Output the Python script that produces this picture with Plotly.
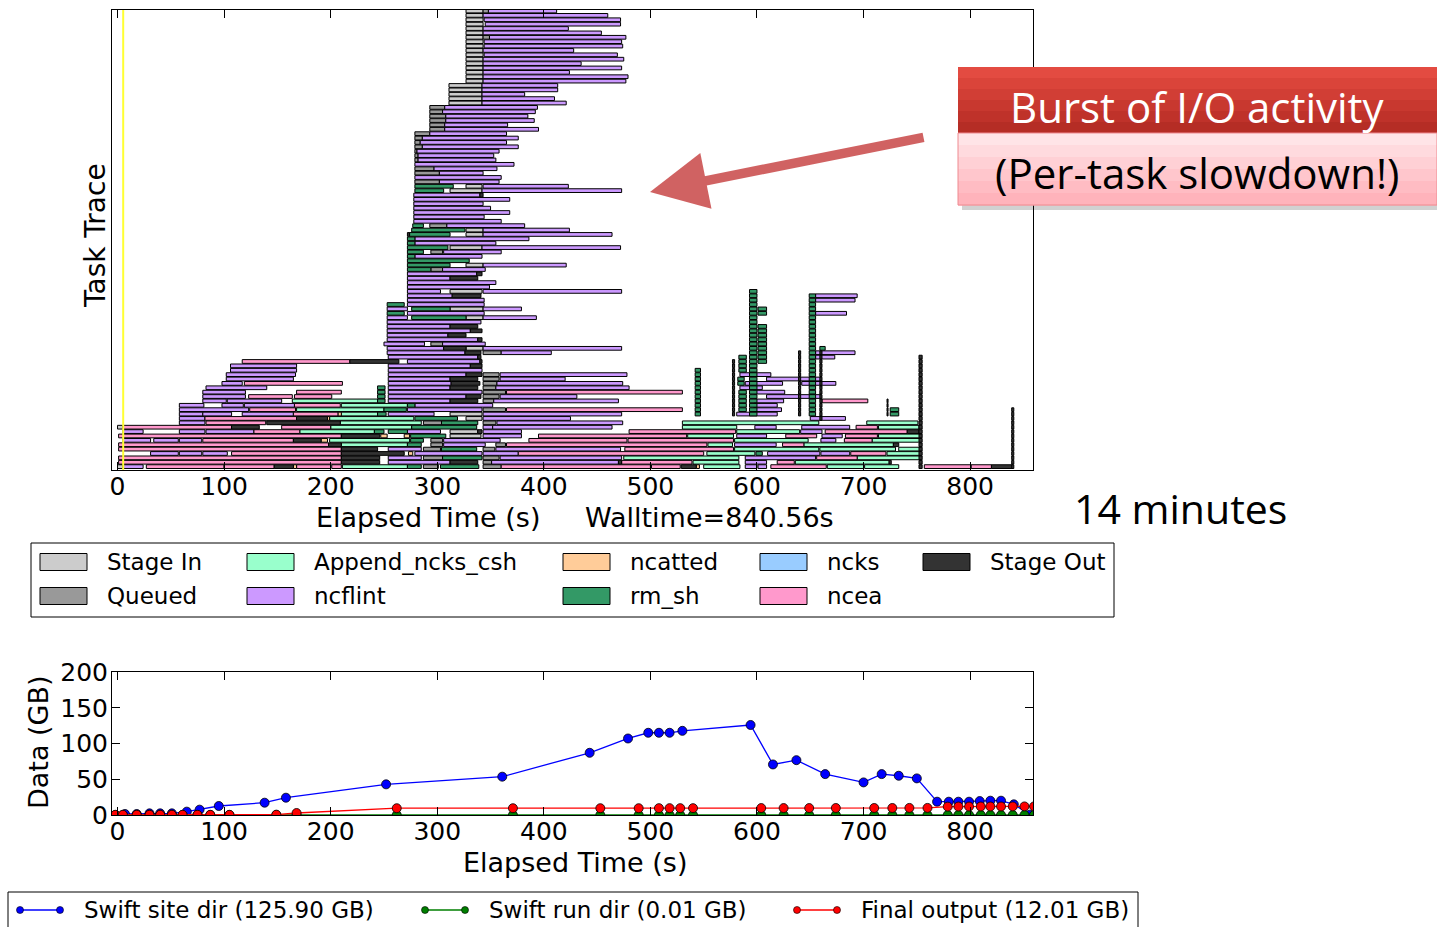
import plotly.graph_objects as go

W, H = 1437, 927

# ---------------- Task trace data: (row, start_s, end_s); row 0 is the top row ----------------
CATEGORIES = ["Stage In", "Queued", "Append_ncks_csh", "ncflint", "ncatted",
              "rm_sh", "ncks", "ncea", "Stage Out"]
COLORS = {"Stage In": "#cccccc", "Queued": "#999999", "Append_ncks_csh": "#99ffcc",
          "ncflint": "#cc99ff", "ncatted": "#ffcc99", "rm_sh": "#339966",
          "ncks": "#99ccff", "ncea": "#ff99cc", "Stage Out": "#333333"}

stage_in = [(0, 327, 343), (1, 327, 343), (2, 327, 343), (3, 327, 343), (4, 327, 343),
            (5, 327, 343), (6, 327, 343), (7, 327, 343), (8, 327, 343), (9, 327, 343),
            (10, 327, 343), (11, 327, 343), (12, 327, 343), (13, 327, 343), (14, 327, 343),
            (15, 327, 343), (16, 327, 343), (17, 311, 342), (18, 311, 342), (19, 311, 342),
            (20, 311, 342), (21, 311, 342), (40, 327, 342), (41, 312, 342), (50, 327, 343),
            (51, 327, 343), (54, 312, 342), (58, 327, 343), (64, 312, 342), (68, 312, 343),
            (70, 327, 343), (77, 327, 343), (92, 312, 342), (93, 327, 342), (95, 0, 5),
            (96, 312, 338), (97, 312, 341), (104, 0, 5)]

queued = [(0, 343, 348), (6, 343, 349), (22, 293, 307), (23, 293, 305), (24, 293, 308),
          (25, 293, 308), (26, 293, 307), (27, 293, 307), (28, 279, 293), (29, 279, 286),
          (30, 279, 284), (31, 279, 286), (32, 279, 281), (33, 279, 282), (34, 279, 282),
          (36, 279, 297), (37, 279, 302), (39, 279, 302), (49, 293, 309), (55, 294, 305),
          (59, 294, 305), (76, 294, 305), (78, 343, 360), (83, 343, 358), (84, 343, 358),
          (85, 343, 356), (86, 343, 355), (87, 343, 364), (88, 343, 358), (89, 343, 353),
          (91, 343, 364), (94, 287, 304), (94, 343, 355), (98, 294, 305), (99, 294, 305),
          (99, 355, 364), (100, 287, 303), (100, 343, 354), (102, 287, 305), (102, 343, 358),
          (103, 343, 351), (104, 287, 301), (104, 343, 360)]

append_ncks_csh = [(89, 164, 244), (90, 210, 272), (91, 168, 250), (92, 210, 244),
                   (93, 199, 278), (94, 209, 285), (94, 530, 658), (94, 703, 751),
                   (95, 200, 276), (95, 530, 581), (95, 714, 752), (96, 171, 241),
                   (96, 581, 640), (97, 535, 578), (97, 714, 754), (98, 199, 274),
                   (98, 579, 648), (98, 708, 754), (99, 210, 272), (99, 554, 577),
                   (99, 644, 728), (100, 579, 658), (100, 659, 730), (100, 733, 754),
                   (101, 553, 598), (101, 722, 754), (102, 475, 583), (102, 694, 754),
                   (103, 540, 583), (103, 636, 724), (104, 211, 272), (104, 550, 584),
                   (104, 666, 700), (104, 701, 733)]

ncflint = [(0, 348, 412), (1, 343, 460), (2, 344, 472), (3, 345, 472), (4, 343, 423),
           (5, 343, 454), (6, 349, 477), (7, 344, 473), (8, 344, 474), (9, 343, 428),
           (10, 344, 469), (11, 343, 475), (12, 343, 435), (13, 343, 473), (14, 343, 424),
           (15, 343, 479), (16, 343, 477), (17, 342, 413), (18, 342, 413), (19, 342, 382),
           (20, 342, 410), (21, 342, 421), (22, 307, 394), (23, 305, 392), (24, 308, 385),
           (25, 308, 391), (26, 307, 366), (27, 307, 395), (28, 293, 365), (29, 286, 376),
           (30, 284, 365), (31, 286, 376), (32, 281, 358), (33, 282, 353), (34, 282, 355),
           (35, 279, 372), (36, 297, 356), (37, 302, 343), (38, 279, 360), (39, 302, 358),
           (40, 343, 423), (41, 342, 473), (42, 278, 340), (43, 278, 368), (44, 278, 343),
           (45, 278, 350), (46, 278, 368), (47, 278, 344), (48, 278, 360), (49, 309, 382),
           (50, 343, 424), (51, 343, 464), (52, 279, 386), (53, 279, 355), (54, 342, 472),
           (55, 306, 360), (56, 279, 342), (58, 343, 421), (59, 305, 345), (60, 272, 337),
           (61, 272, 312), (62, 272, 355), (63, 272, 349), (64, 272, 303), (64, 343, 473),
           (65, 272, 314), (65, 655, 694), (66, 272, 344), (66, 655, 692), (67, 272, 344),
           (68, 253, 272), (68, 343, 379), (69, 272, 344), (69, 655, 684), (70, 253, 272),
           (70, 343, 393), (71, 253, 341), (72, 253, 312), (73, 253, 331), (74, 253, 310),
           (75, 253, 338), (76, 250, 288), (76, 305, 345), (77, 253, 306), (77, 343, 473),
           (78, 253, 326), (78, 360, 407), (78, 655, 692), (79, 254, 338), (79, 655, 673),
           (80, 272, 340), (81, 106, 168), (81, 254, 331), (82, 106, 168), (82, 254, 342),
           (83, 102, 167), (83, 254, 327), (83, 359, 478), (83, 584, 613), (84, 102, 165),
           (84, 254, 312), (84, 359, 420), (84, 609, 660), (85, 98, 117), (85, 254, 313),
           (85, 356, 474), (85, 589, 624), (85, 642, 674), (86, 83, 140), (86, 254, 312),
           (86, 355, 480), (86, 584, 605), (87, 80, 120), (87, 254, 342), (87, 597, 626),
           (88, 80, 120), (88, 254, 327), (88, 359, 431), (88, 609, 660), (89, 80, 102),
           (89, 103, 154), (89, 254, 312), (89, 353, 470), (89, 598, 625), (90, 58, 81),
           (90, 98, 118), (90, 119, 166), (90, 279, 352), (90, 597, 619), (91, 58, 123),
           (91, 272, 342), (91, 597, 623), (92, 58, 80), (92, 80, 107), (92, 117, 165),
           (92, 254, 297), (92, 343, 473), (92, 581, 619), (93, 58, 82), (93, 343, 425),
           (93, 650, 683), (94, 58, 82), (94, 356, 474), (95, 343, 352), (95, 352, 464),
           (95, 598, 618), (95, 642, 687), (96, 5, 24), (96, 58, 82), (96, 83, 128),
           (96, 272, 303), (96, 343, 379), (96, 641, 661), (97, 343, 379), (97, 581, 609),
           (97, 661, 680), (98, 5, 31), (98, 34, 57), (98, 58, 79), (98, 306, 359),
           (98, 660, 674), (99, 306, 345), (99, 579, 618), (100, 254, 285), (100, 355, 472),
           (101, 31, 57), (101, 58, 79), (101, 80, 103), (101, 279, 342), (101, 343, 376),
           (101, 610, 659), (101, 660, 687), (102, 254, 285), (102, 359, 473), (102, 589, 655),
           (103, 254, 312), (103, 351, 470), (103, 589, 609), (104, 5, 24), (104, 589, 600),
           (104, 601, 609)]

ncatted = [(92, 207, 210), (93, 197, 199), (97, 247, 253), (97, 269, 274), (98, 191, 197),
           (101, 273, 277), (104, 165, 168), (104, 543, 546)]

rm_sh = [(40, 279, 315), (41, 279, 306), (49, 277, 287), (50, 276, 326), (51, 274, 312),
         (52, 272, 279), (53, 272, 279), (54, 272, 310), (55, 272, 287), (56, 272, 279),
         (57, 272, 330), (58, 272, 312), (59, 272, 294), (67, 253, 269), (68, 276, 312),
         (69, 253, 269), (70, 276, 327), (77, 659, 664), (86, 244, 251), (87, 244, 251),
         (88, 244, 251), (89, 244, 251), (90, 272, 279), (91, 250, 271), (92, 244, 252),
         (93, 279, 319), (94, 304, 338), (95, 276, 337), (96, 241, 250), (96, 254, 272),
         (97, 275, 308), (98, 275, 287), (99, 272, 285), (100, 304, 337), (101, 599, 605),
         (102, 305, 342), (104, 272, 285), (104, 303, 339), (91, 725, 733), (92, 725, 733)]
# stacked columns of short rm_sh tasks: (first_row, last_row, start_s, end_s)
rm_sh_columns = [(64, 92, 593, 600), (68, 69, 601, 609), (72, 80, 601, 609),
                 (79, 82, 583, 590), (84, 85, 582, 588), (87, 91, 583, 590),
                 (65, 92, 649, 655), (82, 92, 542, 547)]

ncks = []

ncea = [(80, 117, 218), (85, 119, 211), (87, 168, 210), (87, 365, 530), (88, 123, 164),
        (88, 166, 201), (89, 661, 704), (90, 166, 209), (91, 124, 167), (91, 365, 530),
        (92, 165, 207), (93, 82, 168), (94, 83, 139), (95, 5, 107), (95, 154, 200),
        (95, 693, 713), (96, 128, 171), (96, 480, 580), (96, 664, 741), (97, 1, 210),
        (97, 395, 534), (97, 627, 656), (97, 683, 713), (98, 80, 165), (98, 386, 478),
        (98, 479, 578), (98, 682, 708), (99, 1, 198), (99, 365, 553), (99, 624, 644),
        (100, 1, 210), (100, 476, 578), (101, 107, 210), (101, 376, 550), (101, 688, 721),
        (102, 1, 210), (102, 656, 694), (103, 1, 210), (103, 473, 539), (103, 619, 635),
        (104, 27, 100), (104, 100, 147), (104, 168, 200), (104, 201, 210), (104, 360, 400),
        (104, 400, 500), (104, 501, 528), (104, 613, 665), (104, 757, 801), (104, 801, 820)]

stage_out = [(42, 340, 343), (51, 272, 274), (60, 337, 342), (61, 312, 338), (65, 314, 341),
             (72, 312, 338), (73, 331, 342), (74, 310, 327), (75, 338, 342), (77, 306, 327),
             (78, 326, 341), (79, 338, 341), (80, 218, 264), (80, 340, 342), (81, 331, 342),
             (83, 327, 342), (84, 312, 338), (85, 313, 340), (86, 312, 338), (88, 327, 341),
             (89, 312, 338), (93, 168, 197), (94, 140, 209), (95, 107, 133), (96, 338, 342),
             (96, 741, 752), (97, 210, 246), (98, 165, 191), (99, 198, 210), (99, 728, 733),
             (100, 210, 244), (101, 210, 269), (102, 210, 246), (103, 210, 246), (103, 312, 338),
             (103, 470, 473), (103, 724, 726), (104, 147, 165), (104, 529, 543), (104, 820, 840)]
stage_out_columns = [(80, 92, 577, 579), (78, 92, 639, 641), (78, 93, 659, 661),
                     (79, 104, 752, 755), (91, 104, 839, 841), (89, 92, 722, 723)]

start_marker_s = 5.3
walltime_label = "Walltime=840.56s"

# ---------------- Disk usage data ----------------
time_site = [7, 18, 30, 40, 51, 65, 77, 95, 138, 158, 252, 361, 443, 479, 498, 508, 518, 530,
             594, 615, 637, 664, 700, 717, 733, 750, 769, 780, 789, 799, 809, 819, 829, 841, 856]
site_gb = [1.4, 1.4, 2.3, 2.3, 2.3, 4.7, 7.5, 12.6, 17.2, 24.2, 42.9, 53.6, 87, 107, 115, 115,
           115, 117.7, 125.9, 70.7, 76.7, 57.2, 45.6, 57.2, 54.9, 51.2, 18.6, 18.6, 18.6, 18.6,
           19.5, 20, 20, 14.9, 0.5]
time_run = [-2, 5, 18, 30, 40, 51, 61, 75, 87, 105, 149, 168, 262, 371, 453, 489, 508, 518,
            528, 540, 604, 625, 649, 674, 710, 727, 743, 760, 779, 789, 799, 810, 819, 829,
            840, 851, 860]
run_gb = [0.0, 0.0, 0.0, 0.0, 0.0, 0.0, 0.0, 0.0, 0.0, 0.0, 0.0, 0.0, 0.0, 0.0, 0.0, 0.0,
          0.0, 0.0, 0.0, 0.0, 0.0, 0.0, 0.0, 0.0, 0.0, 0.0, 0.0, 0.0, 0.01, 0.01, 0.01, 0.01,
          0.01, 0.01, 0.01, 0.01, 0.01]
final_gb = [0.3, 0.3, 0.3, 0.3, 0.3, 0.3, 0.3, 0.3, 0.3, 0.3, 0.5, 2.8, 9.5, 9.5, 9.5, 9.5,
            9.6, 9.6, 9.6, 9.6, 9.7, 9.7, 9.7, 9.8, 9.8, 9.8, 9.9, 9.9, 11.7, 11.8, 11.8, 11.9,
            11.9, 11.9, 12.0, 12.0, 12.01]
LINE_SERIES = [("Swift site dir (125.90 GB)", "#0000ff", time_site, site_gb),
               ("Swift run dir (0.01 GB)", "#007f00", time_run, run_gb),
               ("Final output (12.01 GB)", "#ff0000", time_run, final_gb)]
x_ticks = [0, 100, 200, 300, 400, 500, 600, 700, 800]
y2_ticks = [0, 50, 100, 150, 200]


def expand(columns):
    out = []
    for r0, r1, s, e in columns:
        for r in range(r0, r1 + 1):
            out.append((r, s, e))
    return out


SEGMENTS = {"Stage In": stage_in, "Queued": queued, "Append_ncks_csh": append_ncks_csh,
            "ncflint": ncflint, "ncatted": ncatted, "rm_sh": rm_sh + expand(rm_sh_columns),
            "ncks": ncks, "ncea": ncea, "Stage Out": stage_out + expand(stage_out_columns)}

DRAW_ORDER = ["Stage In", "Queued", "Append_ncks_csh", "ncflint", "ncea", "ncatted",
              "ncks", "rm_sh", "Stage Out"]

fig = go.Figure()
for cat in DRAW_ORDER:
    segs = SEGMENTS[cat]
    fig.add_trace(go.Bar(
        y=[s[0] for s in segs], base=[s[1] for s in segs], x=[s[2] - s[1] for s in segs],
        orientation="h", width=0.85, name=cat, showlegend=False,
        marker=dict(color=COLORS[cat], line=dict(color="black", width=1)),
        xaxis="x", yaxis="y", hoverinfo="skip"))

for name, col, xs, ys in LINE_SERIES:
    fig.add_trace(go.Scatter(
        x=xs, y=ys, mode="lines+markers", name=name, showlegend=False,
        line=dict(color=col, width=1.3),
        marker=dict(size=9, color=col, line=dict(color="black", width=0.8)),
        xaxis="x2", yaxis="y2", cliponaxis=True))


def PX(x):
    return x / W


def PY(y):
    return 1 - y / H


XDOM = [PX(112), PX(1033)]
XRANGE = [-5.2, 859]
tickfont = dict(family="DejaVu Sans", size=25, color="black")
common_x = dict(range=XRANGE, domain=XDOM, tickvals=x_ticks, ticks="inside", ticklen=8,
                tickcolor="black", showline=True, linecolor="black", linewidth=1,
                mirror="ticks", showgrid=False, zeroline=False, tickfont=tickfont,
                automargin=False, ticklabelstandoff=-6)

fig.update_layout(
    width=W, height=H, margin=dict(l=0, r=0, t=0, b=0, pad=0, autoexpand=False),
    paper_bgcolor="white", plot_bgcolor="white", barmode="overlay", showlegend=False,
    font=dict(family="DejaVu Sans", color="black"),
    xaxis=dict(anchor="y", **common_x),
    yaxis=dict(domain=[PY(470), PY(10)], range=[104.77, -0.23], showticklabels=False,
               ticks="", showline=True, linecolor="black", linewidth=1, mirror=True,
               showgrid=False, zeroline=False, automargin=False),
    xaxis2=dict(anchor="y2", **common_x),
    yaxis2=dict(domain=[PY(815), PY(672)], range=[0, 200], tickvals=y2_ticks,
                ticks="inside", ticklen=8, tickcolor="black", showline=True,
                linecolor="black", linewidth=1, mirror="ticks", showgrid=False,
                zeroline=False, tickfont=tickfont, automargin=False, ticklabelstandoff=-2),
)

shapes = []
annotations = []

# start marker (yellow)
shapes.append(dict(type="line", xref="x", yref="y domain", x0=start_marker_s, x1=start_marker_s,
                   y0=0, y1=1, line=dict(color="#ffff33", width=2)))


def text(t, x, y, size, color="black", family="DejaVu Sans", xanchor="center", angle=0):
    annotations.append(dict(text=t, x=PX(x), y=PY(y), xref="paper", yref="paper",
                            showarrow=False, xanchor=xanchor, yanchor="middle",
                            textangle=angle, font=dict(size=size, color=color, family=family)))


# axis titles
text("Elapsed Time (s)", 427.5, 517, 27)
text(walltime_label, 709.5, 517, 27)
text("Task Trace", 95, 235, 28, angle=-90)
text("Elapsed Time (s)", 574.5, 862, 27)
text("Data (GB)", 38, 742, 27, angle=-90)
text("14 minutes", 1180, 508, 41, family="Open Sans")

# task legend (manual, five columns)
shapes.append(dict(type="rect", xref="paper", yref="paper", x0=PX(31), x1=PX(1114),
                   y0=PY(617), y1=PY(543), line=dict(color="black", width=1),
                   fillcolor="rgba(0,0,0,0)"))
legend_layout = [("Stage In", 40, 562), ("Queued", 40, 596),
                 ("Append_ncks_csh", 247, 562), ("ncflint", 247, 596),
                 ("ncatted", 563, 562), ("rm_sh", 563, 596),
                 ("ncks", 760, 562), ("ncea", 760, 596),
                 ("Stage Out", 923, 562)]
for cat, lx, ly in legend_layout:
    shapes.append(dict(type="rect", xref="paper", yref="paper", x0=PX(lx), x1=PX(lx + 47),
                       y0=PY(ly + 8.5), y1=PY(ly - 8.5), fillcolor=COLORS[cat],
                       line=dict(color="black", width=1)))
    text(cat, lx + 65, ly, 23, xanchor="left")

# line legend (manual)
shapes.append(dict(type="rect", xref="paper", yref="paper", x0=PX(8), x1=PX(1138),
                   y0=PY(945), y1=PY(892), line=dict(color="black", width=1),
                   fillcolor="rgba(0,0,0,0)"))
for (name, col, _, _), lx in zip(LINE_SERIES, [20, 425, 797]):
    shapes.append(dict(type="line", xref="paper", yref="paper", x0=PX(lx), x1=PX(lx + 40),
                       y0=PY(910), y1=PY(910), line=dict(color=col, width=1.5)))
    for cx in (lx, lx + 40):
        shapes.append(dict(type="circle", xref="paper", yref="paper", x0=PX(cx - 3.5),
                           x1=PX(cx + 3.5), y0=PY(913.5), y1=PY(906.5), fillcolor=col,
                           line=dict(color="black", width=0.6)))
    text(name, lx + 62, 910, 23, xanchor="left")

# callout box
shapes.append(dict(type="rect", xref="paper", yref="paper", x0=PX(962), x1=PX(1441),
                   y0=PY(210), y1=PY(71), fillcolor="rgba(0,0,0,0.18)", line=dict(width=0)))
red_bands = ["#e34b41", "#da443a", "#d13e35", "#c8382f", "#bf322a", "#b52d25"]
band_h = (133 - 67) / len(red_bands)
for i, c in enumerate(red_bands):
    shapes.append(dict(type="rect", xref="paper", yref="paper", x0=PX(958), x1=PX(1437),
                       y0=PY(67 + (i + 1) * band_h + 0.5), y1=PY(67 + i * band_h), fillcolor=c,
                       line=dict(width=0)))
pink_bands = ["#ffe4e7", "#ffdade", "#ffd0d5", "#ffc6cc", "#ffbcc3", "#ffb3bb"]
band_h = (205 - 133) / len(pink_bands)
for i, c in enumerate(pink_bands):
    shapes.append(dict(type="rect", xref="paper", yref="paper", x0=PX(958), x1=PX(1437),
                       y0=PY(133 + (i + 1) * band_h + 0.5), y1=PY(133 + i * band_h), fillcolor=c,
                       line=dict(width=0)))
shapes.append(dict(type="rect", xref="paper", yref="paper", x0=PX(958), x1=PX(1437),
                   y0=PY(205), y1=PY(133), fillcolor="rgba(0,0,0,0)",
                   line=dict(color="#ee8a90", width=1)))
text("Burst of I/O activity", 1197, 106, 42, color="white", family="Open Sans")
text("(Per-task slowdown!)", 1197, 173, 42, family="Open Sans")

# arrow
annotations.append(dict(x=PX(650), y=PY(192), xref="paper", yref="paper", text="",
                        showarrow=True, ax=275, ay=-55, arrowhead=2, arrowsize=1.2,
                        arrowwidth=9.5, arrowcolor="rgba(205,85,85,0.92)", standoff=0))

fig.update_layout(shapes=shapes, annotations=annotations)
fig.write_html("out.html")
